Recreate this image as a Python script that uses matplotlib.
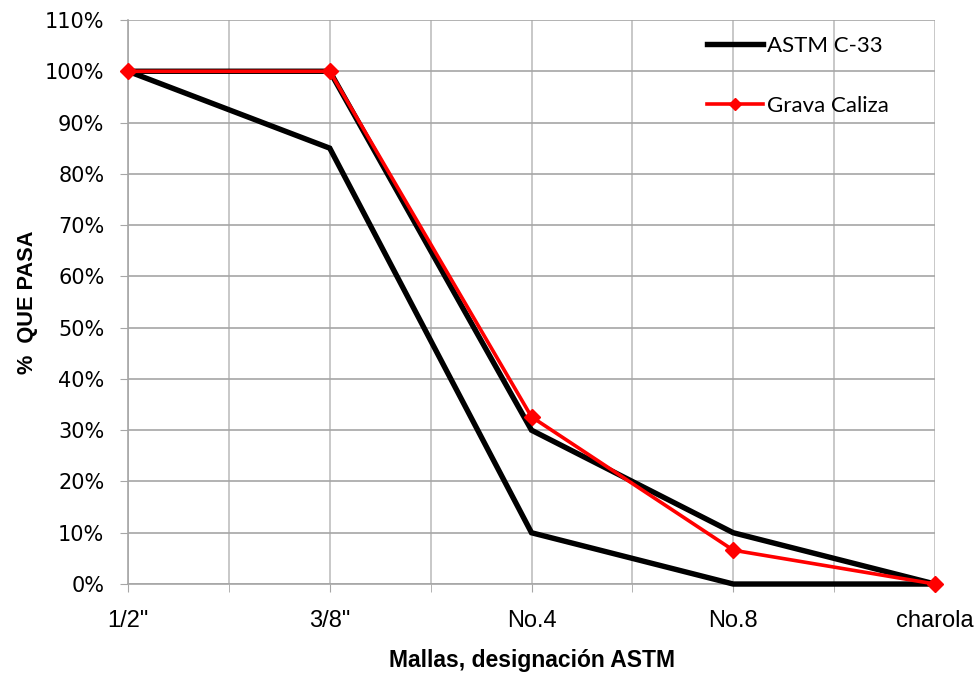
import matplotlib
matplotlib.use("Agg")
import matplotlib.pyplot as plt
from matplotlib.ticker import FixedLocator, PercentFormatter
from matplotlib import font_manager

mallas = ['1/2"', '3/8"', 'No.4', 'No.8', 'charola']
astm_sup = [100, 100, 30, 10, 0]
astm_inf = [100, 85, 10, 0, 0]
grava_caliza = [100, 100, 32.6, 6.6, 0]

names = {f.name for f in font_manager.fontManager.ttflist}
narrow = 'Liberation Sans Narrow' if 'Liberation Sans Narrow' in names else 'Liberation Sans'
legend_font = 'Lato' if 'Lato' in names else 'DejaVu Sans'

W, H = 975, 673
fig = plt.figure(figsize=(W / 100, H / 100), dpi=100)
ax = fig.add_axes([0.1313, 0.1322, 0.8277, 0.8381])

x = list(range(len(mallas)))
grid_c = '#a6a6a6'

ax.set_xlim(0, len(mallas) - 1)
ax.set_ylim(0, 110)
ax.yaxis.set_major_locator(FixedLocator(range(0, 111, 10)))
ax.yaxis.set_major_formatter(PercentFormatter(decimals=0))
ax.set_xticks(x)
ax.set_xticklabels(mallas)
ax.set_xticks([i + 0.5 for i in x[:-1]], minor=True)

ax.grid(True, which='both', axis='x', color='#bfbfbf', lw=1.2)
ax.grid(True, which='major', axis='y', color=grid_c, lw=1.2)
ax.set_axisbelow(True)

for s in ['top', 'right']:
    ax.spines[s].set_visible(False)
for s in ['left', 'bottom']:
    ax.spines[s].set_color(grid_c)
    ax.spines[s].set_linewidth(1.2)

ax.tick_params(axis='y', which='major', length=6, color=grid_c, labelsize=15, pad=11)
ax.tick_params(axis='x', which='both', length=6, color=grid_c, direction='out')
ax.tick_params(axis='x', which='major', labelsize=17, pad=13)
for lab in ax.get_xticklabels():
    lab.set_family(narrow)
for lab in ax.get_yticklabels():
    lab.set_family('DejaVu Sans')

ax.plot(x, astm_sup, color='black', lw=3.9, solid_joinstyle='miter', clip_on=False,
        label='ASTM C-33', zorder=3)
ax.plot(x, astm_inf, color='black', lw=3.9, solid_joinstyle='miter', clip_on=False,
        zorder=3)
ax.plot(x, grava_caliza, color='#ff0000', lw=2.6, marker='D', ms=8.5, clip_on=False,
        label='Grava Caliza', zorder=4)

ax.set_xlabel('Mallas, designación ASTM', fontsize=16.5, fontweight='bold', family=narrow)
ax.xaxis.set_label_coords(0.5, -0.116)
ax.set_ylabel('%  QUE PASA', fontsize=15.7, fontweight='bold', family=narrow)
ax.yaxis.set_label_coords(-0.112, 0.5)

leg = fig.legend(loc='upper left', bbox_to_anchor=(707 / W, 1 - 36 / H), frameon=False,
                 prop={'family': legend_font, 'size': 16}, labelspacing=1.8,
                 handlelength=2.5, handletextpad=0.2, borderpad=0, borderaxespad=0,
                 markerscale=0.7)

fig.savefig('out.png', dpi=100)
